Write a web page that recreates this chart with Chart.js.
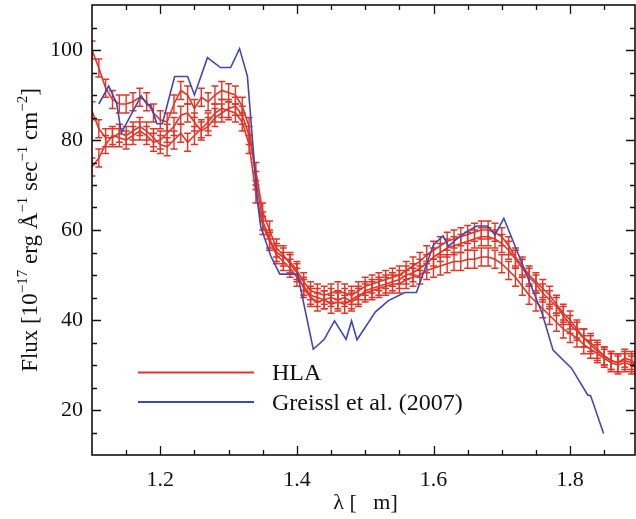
<!DOCTYPE html>
<html>
<head>
<meta charset="utf-8">
<script src="https://cdn.jsdelivr.net/npm/chart.js@4.4.1/dist/chart.umd.min.js"></script>
<style>
  html, body { margin: 0; padding: 0; background: #fff; }
  #wrap { width: 636px; height: 519px; }
</style>
</head>
<body>
<div id="wrap"><canvas id="fluxChart" width="636" height="519"></canvas></div>
<script>
// wavelength grid of the HLA spectra (micron)
const wave = [
  1.10, 1.11, 1.12, 1.13, 1.14, 1.15, 1.16, 1.17, 1.18, 1.19,
  1.20, 1.21, 1.22, 1.23, 1.24, 1.25, 1.26, 1.27, 1.28, 1.29,
  1.30, 1.31, 1.32, 1.33, 1.34, 1.35, 1.36, 1.37, 1.38, 1.39,
  1.40, 1.41, 1.42, 1.43, 1.44, 1.45, 1.46, 1.47, 1.48, 1.49,
  1.50, 1.51, 1.52, 1.53, 1.54, 1.55, 1.56, 1.57, 1.58, 1.59,
  1.60, 1.61, 1.62, 1.63, 1.64, 1.65, 1.66, 1.67, 1.68, 1.69,
  1.70, 1.71, 1.72, 1.73, 1.74, 1.75, 1.76, 1.77, 1.78, 1.79,
  1.80, 1.81, 1.82, 1.83, 1.84, 1.85, 1.86, 1.87, 1.88, 1.89, 1.90
];

// three HLA extractions (flux, 1e-17 erg/A/s/cm2)
const hlaA = [
  100, 96, 91.5, 89, 88, 88, 88.5, 89.5, 88.5, 86,
  84.5, 84, 88, 91, 90, 87, 89.5, 88.5, 90, 91,
  90.5, 90, 87.5, 83, 71, 62, 58, 55, 54, 53,
  51, 48.5, 46.5, 46, 45.5, 46, 46.5, 46, 45.5, 46.5,
  47.5, 48, 48.5, 49, 49.5, 50, 51, 52, 53, 54.5,
  55.5, 56.5, 57.5, 58, 58.5, 59, 59.5, 60, 60, 59.5,
  58.5, 56.5, 54, 52, 50, 48.5, 47, 45.5, 43.5, 41.5,
  40, 38, 36, 35, 33.5, 32, 31, 30.5, 31.5, 31, 29.5
];
const hlaB = [
  86.5, 82.5, 80.5, 80.5, 81.5, 81, 82, 83, 82, 80.5,
  79, 78.5, 80, 81.5, 79.5, 81, 82.5, 84, 86, 87,
  86.5, 86, 84, 79, 68, 61, 57.5, 54.5, 53, 51.5,
  49.5, 47.5, 45.5, 45, 44.5, 45, 44.5, 45, 44, 45,
  46.5, 47, 47.5, 48, 48.5, 49, 50, 50.5, 51.5, 52.5,
  54, 55, 56, 56.5, 57, 57.5, 58, 58.5, 58.5, 58,
  57, 55.5, 53.5, 51.5, 49.5, 48, 46, 44.5, 43, 41,
  39, 37.5, 36, 34.5, 33, 32, 31, 30.5, 31, 30.5, 29
];
const hlaC = [
  74, 76, 79, 81, 80.5, 80, 81, 82, 81, 79.5,
  80, 81.5, 83, 85.5, 86, 84, 82, 83, 85, 86,
  87, 87.5, 85.5, 81, 73, 64, 60, 56, 54.5, 52.5,
  50.5, 47, 45, 44, 44.5, 43.5, 44, 43.5, 44.5, 45.5,
  46, 46.5, 47, 47.5, 48, 48, 49, 49.5, 50, 51,
  51.5, 52, 52.5, 53, 53, 53.5, 53.5, 54, 54, 53.5,
  52.5, 51, 49.5, 47.5, 45.5, 44, 42.5, 41, 39.5, 38,
  37, 36, 34.5, 33.5, 32.5, 31.5, 30.5, 30, 30.5, 30, 29
];
const hlaErr = 2;

// Greissl et al. (2007) spectrum
const greisslWave = [
  1.110, 1.1245, 1.136, 1.143, 1.172, 1.181, 1.186, 1.195, 1.203, 1.221,
  1.240, 1.250, 1.269, 1.288, 1.303, 1.316, 1.3275, 1.335, 1.342, 1.347,
  1.362, 1.375, 1.401, 1.424, 1.440, 1.455, 1.472, 1.480, 1.488, 1.515,
  1.534, 1.558, 1.575, 1.600, 1.614, 1.622, 1.641, 1.663, 1.679, 1.690,
  1.703, 1.759, 1.775, 1.802, 1.826, 1.830, 1.849
];
const greisslFlux = [
  88.0, 92.0, 88.2, 81.6, 89.8, 87.8, 87.8, 83.6, 83.6, 94.1,
  94.1, 90.0, 98.3, 96.1, 96.1, 100.3, 94.2, 80.0, 66.7, 60.7,
  54.1, 50.2, 50.2, 33.5, 35.7, 39.8, 35.7, 39.8, 35.6, 41.8,
  44.3, 46.1, 46.1, 56.7, 58.7, 56.4, 58.9, 60.9, 60.9, 58.9,
  62.6, 41.5, 33.3, 29.3, 23.3, 23.2, 14.8
];

const xTicks = [1.2, 1.4, 1.6, 1.8];
const yTicks = [20, 40, 60, 80, 100];

const RED = "rgb(228,52,38)";
const BLUE = "rgb(64,72,178)";
const FONT = "'Liberation Serif', 'Times New Roman', serif";
const INK = "#111";

function pts(xs, ys) {
  return xs.map((x, i) => ({ x, y: ys[i] }));
}

function hlaSet(values) {
  return {
    label: "HLA",
    data: pts(wave, values),
    borderColor: RED,
    borderWidth: 1.6,
    pointRadius: 0,
    tension: 0,
    order: 1,
    errBars: true
  };
}

const errorBars = {
  id: "errorBars",
  afterDatasetDraw(chart, args) {
    const ds = chart.data.datasets[args.index];
    if (!ds.errBars) return;
    const { ctx, chartArea: a } = chart;
    const ys = chart.scales.y;
    ctx.save();
    ctx.beginPath();
    ctx.rect(a.left, a.top, a.right - a.left, a.bottom - a.top);
    ctx.clip();
    ctx.strokeStyle = RED;
    ctx.lineWidth = 1.4;
    ctx.beginPath();
    args.meta.data.forEach((el, i) => {
      const v = ds.data[i].y;
      const y1 = ys.getPixelForValue(v - hlaErr);
      const y2 = ys.getPixelForValue(v + hlaErr);
      ctx.moveTo(el.x, y1); ctx.lineTo(el.x, y2);
      ctx.moveTo(el.x - 3.5, y1); ctx.lineTo(el.x + 3.5, y1);
      ctx.moveTo(el.x - 3.5, y2); ctx.lineTo(el.x + 3.5, y2);
    });
    ctx.stroke();
    ctx.restore();
  }
};

const frame = {
  id: "frame",
  afterDraw(chart) {
    const { ctx, chartArea: a, scales } = chart;
    const xs = scales.x, ys = scales.y;
    ctx.save();
    ctx.strokeStyle = INK;
    ctx.lineWidth = 1.6;
    ctx.strokeRect(a.left, a.top, a.right - a.left, a.bottom - a.top);

    ctx.lineWidth = 1.3;
    ctx.beginPath();
    // x ticks, top and bottom
    for (let v = 1.15; v < xs.max; v += 0.05) {
      const major = xTicks.some(t => Math.abs(t - v) < 1e-6);
      const len = major ? 9 : 5;
      const px = Math.round(xs.getPixelForValue(v)) + 0.5;
      ctx.moveTo(px, a.bottom); ctx.lineTo(px, a.bottom - len);
      ctx.moveTo(px, a.top); ctx.lineTo(px, a.top + len);
    }
    // y ticks, left and right
    for (let v = 15; v < ys.max; v += 5) {
      const major = yTicks.includes(v);
      const len = major ? 9 : 5;
      const py = Math.round(ys.getPixelForValue(v)) + 0.5;
      ctx.moveTo(a.left, py); ctx.lineTo(a.left + len, py);
      ctx.moveTo(a.right, py); ctx.lineTo(a.right - len, py);
    }
    ctx.stroke();

    // x title
    ctx.fillStyle = INK;
    ctx.font = "22px " + FONT;
    ctx.textAlign = "center";
    ctx.textBaseline = "middle";
    ctx.fillText("\u03bb [   m]", (a.left + a.right) / 2 + 2, 503);

    // y title with superscripts
    const parts = [
      ["Flux [10", false], ["\u221217", true], [" erg \u00c5", false], ["\u22121", true],
      [" sec", false], ["\u22121", true], [" cm", false], ["\u22122", true], ["]", false]
    ];
    const big = "23px " + FONT, small = "15px " + FONT;
    let total = 0;
    parts.forEach(([t, sup]) => { ctx.font = sup ? small : big; total += ctx.measureText(t).width; });
    ctx.translate(29, (a.top + a.bottom) / 2);
    ctx.rotate(-Math.PI / 2);
    ctx.textAlign = "left";
    ctx.textBaseline = "alphabetic";
    let x = -total / 2;
    parts.forEach(([t, sup]) => {
      ctx.font = sup ? small : big;
      ctx.fillText(t, x, sup ? -2 : 8);
      x += ctx.measureText(t).width;
    });
    ctx.restore();

    // legend
    ctx.save();
    ctx.lineWidth = 1.8;
    ctx.strokeStyle = RED;
    ctx.beginPath(); ctx.moveTo(138, 372.5); ctx.lineTo(254, 372.5); ctx.stroke();
    ctx.strokeStyle = BLUE;
    ctx.beginPath(); ctx.moveTo(138, 402); ctx.lineTo(254, 402); ctx.stroke();
    ctx.fillStyle = INK;
    ctx.font = "24px " + FONT;
    ctx.textBaseline = "middle";
    ctx.fillText("HLA", 272, 374);
    ctx.fillText("Greissl et al. (2007)", 272, 404);
    ctx.restore();
  }
};

new Chart(document.getElementById("fluxChart"), {
  type: "line",
  data: {
    datasets: [
      hlaSet(hlaA),
      hlaSet(hlaB),
      hlaSet(hlaC),
      {
        label: "Greissl et al. (2007)",
        data: pts(greisslWave, greisslFlux),
        borderColor: BLUE,
        borderWidth: 1.6,
        pointRadius: 0,
        tension: 0,
        order: 0
      }
    ]
  },
  options: {
    responsive: false,
    animation: false,
    devicePixelRatio: 1,
    layout: { padding: { top: 5, right: 1, left: 0, bottom: 0 } },
    plugins: { legend: { display: false }, tooltip: { enabled: false } },
    scales: {
      x: {
        type: "linear",
        min: 1.1,
        max: 1.895,
        grid: { display: false, drawTicks: false },
        border: { display: false },
        afterBuildTicks(s) { s.ticks = xTicks.map(v => ({ value: v })); },
        afterFit(s) { s.height = 64; s.paddingLeft = 0; s.paddingRight = 0; },
        ticks: {
          padding: 12,
          color: INK,
          font: { family: FONT, size: 22 },
          maxRotation: 0,
          callback: v => v.toFixed(1)
        }
      },
      y: {
        min: 10,
        max: 110,
        grid: { display: false, drawTicks: false },
        border: { display: false },
        afterBuildTicks(s) { s.ticks = yTicks.map(v => ({ value: v })); },
        afterFit(s) { s.width = 92; s.paddingTop = 0; s.paddingBottom = 0; },
        ticks: {
          padding: 9,
          color: INK,
          font: { family: FONT, size: 22 }
        }
      }
    }
  },
  plugins: [errorBars, frame]
});
</script>
</body>
</html>
